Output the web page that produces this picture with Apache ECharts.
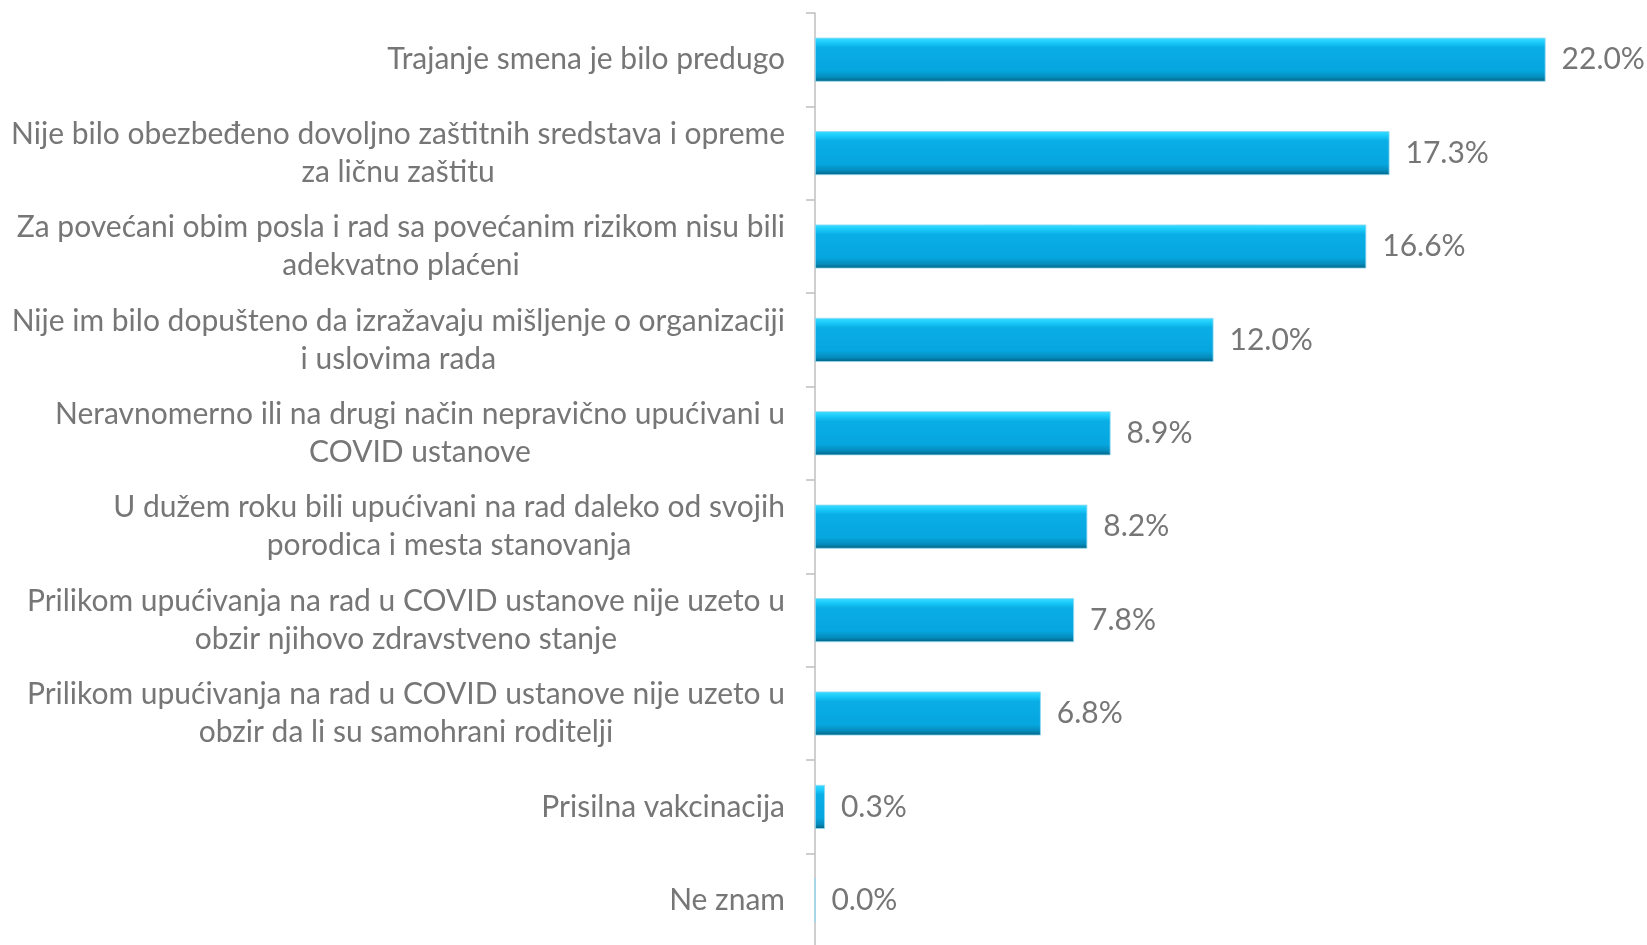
<!DOCTYPE html>
<html>
<head>
<meta charset="utf-8">
<script src="https://cdn.jsdelivr.net/npm/echarts@6/dist/echarts.min.js"></script>
<style>
  html, body { margin: 0; padding: 0; background: #fff; }
  #bar { width: 1647px; height: 945px; }
</style>
</head>
<body>
<div id="bar"></div>
<script>
// kategorije odozgo nadole
const categories = [
  'Trajanje smena je bilo predugo',
  'Nije bilo obezbeđeno dovoljno zaštitnih sredstava i opreme\nza ličnu zaštitu',
  'Za povećani obim posla i rad sa povećanim rizikom nisu bili\nadekvatno plaćeni',
  'Nije im bilo dopušteno da izražavaju mišljenje o organizaciji\ni uslovima rada',
  'Neravnomerno ili na drugi način nepravično upućivani u\nCOVID ustanove',
  'U dužem roku bili upućivani na rad daleko od svojih\nporodica i mesta stanovanja',
  'Prilikom upućivanja na rad u COVID ustanove nije uzeto u\nobzir njihovo zdravstveno stanje',
  'Prilikom upućivanja na rad u COVID ustanove nije uzeto u\nobzir da li su samohrani roditelji',
  'Prisilna vakcinacija',
  'Ne znam'
]
// procenti
const values = [22.0, 17.3, 16.6, 12.0, 8.9, 8.2, 7.8, 6.8, 0.3, 0.0]

const textColor = '#767676'
const font = 'Lato'

let myChart = echarts.init(document.getElementById('bar'))

let opt = {
  animation: false,
  grid: {
    left: 815,
    top: 13,
    width: 797,
    height: 934,
    containLabel: false,
    outerBoundsMode: 'none'
  },
  xAxis: {
    type: 'value',
    min: 0,
    max: 24,
    show: false
  },
  yAxis: {
    type: 'category',
    inverse: true,
    data: categories,
    axisLine: { show: true, lineStyle: { color: '#bfbfbf', width: 1.5 } },
    axisTick: { show: true, length: 9, lineStyle: { color: '#bfbfbf', width: 1.5 } },
    axisLabel: {
      margin: 30,
      align: 'right',
      formatter: v => v.split('\n').map(s => '{c|' + s + '}').join('\n'),
      rich: {
        c: {
          align: 'center',
          color: textColor,
          fontFamily: font,
          fontSize: 30,
          lineHeight: 38
        }
      }
    }
  },
  series: [{
    type: 'bar',
    data: values,
    barWidth: 44,
    itemStyle: {
      color: {
        type: 'linear', x: 0, y: 0, x2: 0, y2: 1,
        colorStops: [
          { offset: 0, color: '#3fdcff' },
          { offset: 0.1, color: '#1bcdfb' },
          { offset: 0.22, color: '#0aaee6' },
          { offset: 0.75, color: '#06a6df' },
          { offset: 0.9, color: '#058bbb' },
          { offset: 1, color: '#04607f' }
        ]
      },
      borderColor: '#8fd9f2',
      borderWidth: 0.8
    },
    label: {
      show: true,
      position: 'right',
      distance: 16,
      color: textColor,
      fontFamily: font,
      fontSize: 30,
      formatter: p => p.value.toFixed(1) + '%'
    }
  }]
}

myChart.setOption(opt)
</script>
</body>
</html>
